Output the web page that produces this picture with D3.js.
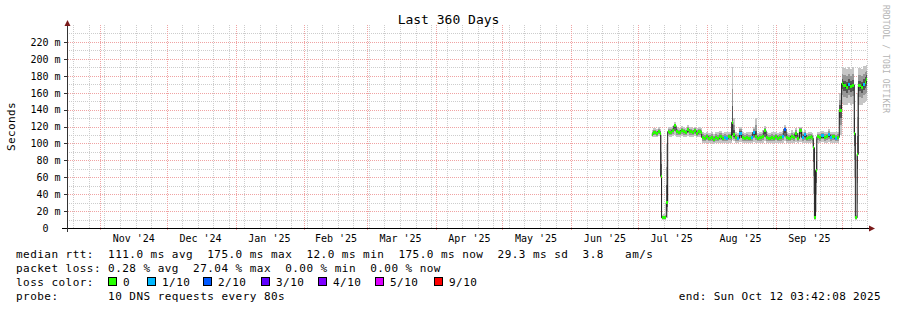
<!DOCTYPE html>
<html>
<head>
<meta charset="utf-8">
<script src="https://cdn.jsdelivr.net/npm/d3@7"></script>
<style>
body { margin: 0; background: #fff; }
svg text { font-family: "DejaVu Sans Mono", monospace; fill: #000; white-space: pre; }
</style>
</head>
<body>
<svg id="chart" width="897" height="310"></svg>
<script>
// ---- data (ms) ----
const sampleTimes = [
  "2025-07-07 06", "2025-07-08 00", "2025-07-09 00", "2025-07-10 00", "2025-07-11 00",
  "2025-07-11 07", "2025-07-11 17", "2025-07-12 12", "2025-07-13 06", "2025-07-13 20",
  "2025-07-14 11", "2025-07-15 06", "2025-07-16 06", "2025-07-17 06", "2025-07-18 06",
  "2025-07-19 06", "2025-07-20 06", "2025-07-21 06", "2025-07-22 06", "2025-07-23 06",
  "2025-07-24 06", "2025-07-25 06", "2025-07-26 06", "2025-07-27 06", "2025-07-28 06",
  "2025-07-29 06", "2025-07-29 18", "2025-07-30 18", "2025-07-31 18", "2025-08-01 18",
  "2025-08-02 18", "2025-08-03 18", "2025-08-04 18", "2025-08-05 18", "2025-08-06 18",
  "2025-08-07 18", "2025-08-08 18", "2025-08-09 18", "2025-08-10 18", "2025-08-11 18",
  "2025-08-12 06", "2025-08-12 18", "2025-08-13 18", "2025-08-14 18", "2025-08-15 18",
  "2025-08-16 18", "2025-08-17 18", "2025-08-18 18", "2025-08-19 18", "2025-08-20 18",
  "2025-08-21 18", "2025-08-22 18", "2025-08-23 18", "2025-08-24 18", "2025-08-25 18",
  "2025-08-26 18", "2025-08-27 18", "2025-08-28 18", "2025-08-29 18", "2025-08-30 18",
  "2025-08-31 18", "2025-09-01 18", "2025-09-02 18", "2025-09-03 18", "2025-09-04 18",
  "2025-09-05 18", "2025-09-06 18", "2025-09-07 18", "2025-09-08 18", "2025-09-09 18",
  "2025-09-10 18", "2025-09-11 18", "2025-09-12 18", "2025-09-13 18", "2025-09-14 18",
  "2025-09-15 18", "2025-09-16 18", "2025-09-17 12", "2025-09-17 23", "2025-09-18 12",
  "2025-09-19 00", "2025-09-19 14", "2025-09-20 14", "2025-09-21 14", "2025-09-22 14",
  "2025-09-23 14", "2025-09-24 14", "2025-09-25 14", "2025-09-26 14", "2025-09-27 14",
  "2025-09-28 14", "2025-09-29 16", "2025-09-30 17", "2025-10-01 12", "2025-10-02 12",
  "2025-10-03 12", "2025-10-04 12", "2025-10-05 12", "2025-10-06 10", "2025-10-06 22",
  "2025-10-07 17", "2025-10-08 06", "2025-10-09 06", "2025-10-10 06", "2025-10-11 06",
  "2025-10-11 21"
];
const medianRtt = [
  111, 113, 112, 114, 112,  61,  12,  12,  13,  30,
  114, 113, 115, 121, 114, 113, 115, 114, 113, 116,
  114, 113, 115, 112, 114, 113, 107, 106, 108, 106,
  107, 105, 107, 106, 108, 106, 107, 106, 108, 107,
  125, 110, 107, 106, 112, 107, 106, 107, 106, 107,
  113, 108, 106, 107, 108, 115, 107, 106, 107, 106,
  108, 106, 107, 108, 117, 107, 106, 108, 107, 112,
  106, 115, 107, 110, 106, 107, 108, 106,  95,  12,
   68, 108, 107, 109, 107, 108, 110, 107, 108, 106,
  107, 139, 171, 168, 166, 170, 167, 169, 112,  12,
   87, 168, 166, 170, 172, 175
];
const smokeLow = [
  107, 108, 107, 109, 107,  20,  10,  10,  10,  12,
  109, 108, 109, 110, 108, 108, 109, 108, 107, 109,
  108, 108, 109, 107, 108, 107, 101, 100, 101, 100,
  101,  99, 101, 100, 101, 100, 101, 100, 101, 101,
  104, 103, 101, 100, 102, 101, 100, 101, 100, 101,
  102, 101, 100, 101, 101, 103, 101, 100, 101, 100,
  101, 100, 101, 101, 103, 101, 100, 101, 101, 102,
  100, 102, 101, 101, 100, 101, 101, 100,  40,  10,
   20, 101, 101, 102, 101, 101, 102, 101, 101, 100,
  101, 110, 148, 146, 145, 148, 146, 147,  60,  10,
   30, 146, 145, 148, 149, 150
];
const smokeHigh = [
  116, 118, 117, 119, 117, 110,  15,  16,  15, 100,
  120, 119, 121, 125, 120, 118, 121, 119, 118, 122,
  119, 118, 120, 118, 119, 118, 113, 112, 114, 112,
  113, 111, 114, 113, 115, 112, 113, 113, 114, 118,
  190, 130, 114, 112, 120, 113, 112, 114, 113, 114,
  119, 130, 112, 113, 116, 121, 113, 112, 114, 113,
  114, 112, 113, 115, 122, 113, 112, 116, 113, 118,
  112, 120, 113, 116, 112, 113, 114, 112, 110,  15,
  105, 114, 113, 115, 113, 114, 117, 113, 114, 113,
  113, 160, 190, 189, 188, 190, 188, 190, 170,  15,
  160, 189, 188, 191, 192, 193
];
// loss bucket index into lossColors
const lossLevel = [
  0, 0, 0, 0, 0, 0, 0, 0, 0, 0,
  0, 0, 0, 0, 0, 0, 0, 0, 0, 0,
  0, 0, 0, 0, 0, 0, 0, 0, 0, 0,
  0, 0, 0, 0, 0, 0, 1, 1, 0, 0,
  0, 0, 0, 1, 1, 0, 0, 0, 0, 1,
  1, 0, 0, 0, 0, 0, 0, 0, 0, 0,
  0, 0, 0, 1, 2, 0, 0, 0, 0, 0,
  0, 0, 1, 1, 0, 0, 0, 0, 0, 0,
  0, 0, 0, 1, 0, 0, 1, 1, 0, 1,
  0, 0, 0, 0, 0, 1, 0, 0, 0, 0,
  0, 0, 0, 1, 0, 0
];

const endTime = "2025-10-12 03:42:08";
const spanDays = 360;

const yTicks = [0, 20, 40, 60, 80, 100, 120, 140, 160, 180, 200, 220];
const xTickLabels = ["Nov '24", "Dec '24", "Jan '25", "Feb '25", "Mar '25", "Apr '25",
                     "May '25", "Jun '25", "Jul '25", "Aug '25", "Sep '25"];
const xTickDates = ["2024-11-16", "2024-12-16", "2025-01-16", "2025-02-15", "2025-03-16", "2025-04-16",
                    "2025-05-16", "2025-06-16", "2025-07-16", "2025-08-16", "2025-09-16"];

const lossLabels = ["0", "1/10", "2/10", "3/10", "4/10", "5/10", "9/10"];
const lossColors = ["#26ff00", "#00b8ff", "#0059ff", "#5e00ff", "#7e00ff", "#dd00ff", "#ff0000"];

const medianStats = "median rtt:  111.0 ms avg  175.0 ms max  12.0 ms min  175.0 ms now  29.3 ms sd  3.8   am/s";
const lossStats = "packet loss: 0.28 % avg  27.04 % max  0.00 % min  0.00 % now";
const probeText = "probe:       10 DNS requests every 80s";
const endText = "end: Sun Oct 12 03:42:08 2025";

// ---- layout ----
const W = 897, H = 310;
const plotL = 67, plotR = 867, plotT = 25, plotB = 228;
const boxX = [108, 147, 203, 261, 318, 375, 434];

const svg = d3.select("#chart");
const parseT = d3.utcParse("%Y-%m-%d %H");
const tEnd = d3.utcParse("%Y-%m-%d %H:%M:%S")(endTime);
const tStart = d3.utcDay.offset(tEnd, -spanDays);

const x = d3.scaleUtc().domain([tStart, tEnd]).range([plotL, plotR]);
const y = d3.scaleLinear().domain([0, 240]).range([plotB, plotT]);

const points = sampleTimes.map((s, i) => ({
  t: parseT(s), med: medianRtt[i], lo: smokeLow[i], hi: smokeHigh[i], loss: lossLevel[i]
}));
const stepped = points.concat([Object.assign({}, points[points.length - 1], {t: tEnd})]);

// ---- grid ----
const grid = svg.append("g").attr("shape-rendering", "crispEdges");
const minorColor = "#cdcdcd", majorColor = "#f0a3a3";

d3.range(10, 240, 20).forEach(v => {
  grid.append("line").attr("x1", plotL).attr("x2", plotR)
      .attr("y1", Math.round(y(v)) + 0.5).attr("y2", Math.round(y(v)) + 0.5)
      .attr("stroke", minorColor).attr("stroke-dasharray", "1,1");
});
d3.utcSunday.range(tStart, tEnd).forEach(d => {
  grid.append("line").attr("x1", Math.round(x(d)) + 0.5).attr("x2", Math.round(x(d)) + 0.5)
      .attr("y1", plotT).attr("y2", plotB)
      .attr("stroke", minorColor).attr("stroke-dasharray", "1,1");
});
yTicks.filter(v => v > 0).forEach(v => {
  grid.append("line").attr("x1", plotL - 3).attr("x2", plotR)
      .attr("y1", Math.round(y(v)) + 0.5).attr("y2", Math.round(y(v)) + 0.5)
      .attr("stroke", majorColor).attr("stroke-dasharray", "1,1");
});
d3.utcMonth.range(d3.utcMonth.ceil(tStart), tEnd).forEach(d => {
  grid.append("line").attr("x1", Math.round(x(d)) + 0.5).attr("x2", Math.round(x(d)) + 0.5)
      .attr("y1", plotT).attr("y2", plotB + 3)
      .attr("stroke", majorColor).attr("stroke-dasharray", "1,1");
});

// ---- smoke ----
const smoke = svg.append("g").attr("shape-rendering", "crispEdges");
const band = (f) => d3.area().curve(d3.curveStepAfter)
  .x(d => x(d.t))
  .y0(d => y(d.med - (d.med - d.lo) * f))
  .y1(d => y(d.med + (d.hi - d.med) * f));
smoke.append("path").datum(stepped).attr("d", band(1)).attr("fill", "#c6c6c6");
smoke.append("path").datum(stepped).attr("d", band(0.6)).attr("fill", "#969696");
smoke.append("path").datum(stepped).attr("d", band(0.3)).attr("fill", "#555555");

// ---- median line ----
const medLine = d3.line().curve(d3.curveStepAfter).x(d => x(d.t)).y(d => y(d.med));
svg.append("path").datum(stepped).attr("d", medLine)
   .attr("fill", "none").attr("stroke", "#202020").attr("stroke-width", 1);

// ---- loss coloured median band ----
svg.append("g").attr("shape-rendering", "crispEdges")
  .selectAll("rect").data(points).enter().append("rect")
  .attr("x", d => x(d.t))
  .attr("width", (d, i) => x(stepped[i + 1].t) - x(d.t))
  .attr("y", d => y(d.med) - 1.5)
  .attr("height", 3)
  .attr("fill", d => lossColors[d.loss]);

// ---- axes ----
const axisColor = "#333";
const arrowColor = "#7a1a1a";
const yAxis = d3.axisLeft(y).tickValues(yTicks).tickSize(4).tickPadding(3)
  .tickFormat(v => v === 0 ? "0\u00a0\u00a0" : v + " m");
const gy = svg.append("g").attr("transform", `translate(${plotL + 0.5},0)`).call(yAxis);
gy.select(".domain").remove();
gy.selectAll("line").attr("stroke", axisColor).attr("shape-rendering", "crispEdges");
gy.selectAll("text").attr("font-size", 10).attr("font-family", "DejaVu Sans Mono").attr("dy", "0.34em");

const xAxis = d3.axisBottom(x).tickValues(xTickDates.map(d3.utcParse("%Y-%m-%d")))
  .tickSize(0).tickPadding(7)
  .tickFormat((d, i) => xTickLabels[i]);
const gx = svg.append("g").attr("transform", `translate(0,${plotB})`).call(xAxis);
gx.select(".domain").remove();
gx.selectAll("text").attr("font-size", 10).attr("font-family", "DejaVu Sans Mono");

svg.append("line").attr("x1", plotL - 5).attr("x2", plotR + 2)
   .attr("y1", plotB + 0.5).attr("y2", plotB + 0.5)
   .attr("stroke", "#000").attr("shape-rendering", "crispEdges");
svg.append("line").attr("x1", plotL + 0.5).attr("x2", plotL + 0.5)
   .attr("y1", plotB + 4).attr("y2", plotT + 1)
   .attr("stroke", axisColor).attr("shape-rendering", "crispEdges");
svg.append("path")
   .attr("d", `M${plotR + 2},${plotB - 2.5} L${plotR + 8},${plotB + 0.5} L${plotR + 2},${plotB + 3.5} Z`)
   .attr("fill", arrowColor);
svg.append("path")
   .attr("d", `M${plotL - 2.5},${plotT + 1} L${plotL + 0.5},${plotT - 5} L${plotL + 3.5},${plotT + 1} Z`)
   .attr("fill", arrowColor);

// ---- titles ----
svg.append("text").attr("x", W / 2).attr("y", 24).attr("text-anchor", "middle")
   .attr("font-size", 13).text("Last 360 Days");
svg.append("text").attr("transform", `translate(15,${(plotT + plotB) / 2}) rotate(-90)`)
   .attr("text-anchor", "middle").attr("font-size", 11).attr("letter-spacing", 0.38)
   .text("Seconds");
svg.append("text").attr("transform", `translate(883,5) rotate(90)`)
   .attr("font-size", 8).attr("letter-spacing", 0.1).style("fill", "#b4b4b4")
   .text("RRDTOOL / TOBI OETIKER");

// ---- legend ----
const legend = svg.append("g").attr("font-size", 11).attr("letter-spacing", 0.46);
legend.append("text").attr("x", 16).attr("y", 258).text(medianStats);
legend.append("text").attr("x", 16).attr("y", 272).text(lossStats);
legend.append("text").attr("x", 16).attr("y", 286).text("loss color:");
lossLabels.forEach((s, i) => {
  legend.append("rect").attr("x", boxX[i] + 0.5).attr("y", 277.5).attr("width", 8).attr("height", 8)
        .attr("fill", lossColors[i]).attr("stroke", "#000").attr("shape-rendering", "crispEdges");
  legend.append("text").attr("x", boxX[i] + 15).attr("y", 286).text(s);
});
legend.append("text").attr("x", 16).attr("y", 300).text(probeText);
legend.append("text").attr("x", 881).attr("y", 300).attr("text-anchor", "end")
      .attr("letter-spacing", 0.35).text(endText);
</script>
</body>
</html>
